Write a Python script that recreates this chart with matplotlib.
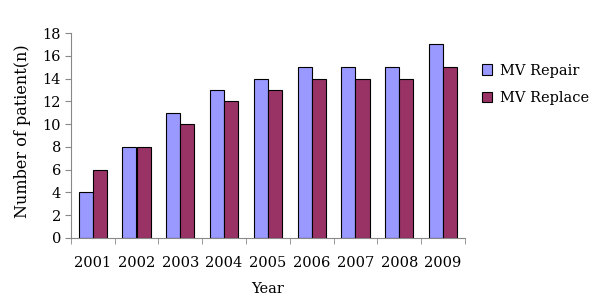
import numpy as np
import matplotlib
matplotlib.use('Agg')
import matplotlib.pyplot as plt

years = ['2001', '2002', '2003', '2004', '2005', '2006', '2007', '2008', '2009']
repair = [4, 8, 11, 13, 14, 15, 15, 15, 17]
replace = [6, 8, 10, 12, 13, 14, 14, 14, 15]

plt.rcParams['font.family'] = ['DejaVu Serif']
plt.rcParams['font.size'] = 10.5

fig = plt.figure(figsize=(6, 3.07), dpi=100)
ax = fig.add_axes([0.118, 0.225, 0.657, 0.6675])

x = np.arange(len(years))
w = 0.32
ax.bar(x - w / 2, repair, w, color='#9999FF', edgecolor='black', linewidth=0.8, label='MV Repair')
ax.bar(x + w / 2, replace, w, color='#993366', edgecolor='black', linewidth=0.8, label='MV Replace')

ax.set_xlim(-0.5, len(years) - 0.5)
ax.set_ylim(0, 18)
ax.set_yticks(range(0, 19, 2))
ax.set_xticks(x)
ax.set_xticklabels(years)
ax.set_xticks(np.arange(-0.5, len(years)), minor=True)
ax.tick_params(axis='x', which='major', length=0, pad=13)
ax.tick_params(axis='x', which='minor', length=4, color='#888888')
ax.tick_params(axis='y', length=4, color='#888888', pad=3)

for s in ['top', 'right']:
    ax.spines[s].set_visible(False)
for s in ['left', 'bottom']:
    ax.spines[s].set_color('#888888')
    ax.spines[s].set_linewidth(0.8)

ax.set_xlabel('Year', labelpad=9)
ax.set_ylabel('Number of patient(n)', fontsize=11.5)
ax.yaxis.set_label_coords(-0.10, 0.52)

ax.legend(loc='center left', bbox_to_anchor=(1.01, 0.75), frameon=False,
          handlelength=0.7, handleheight=0.7, handletextpad=0.5, labelspacing=0.9)

fig.savefig('out.png', dpi=100)
